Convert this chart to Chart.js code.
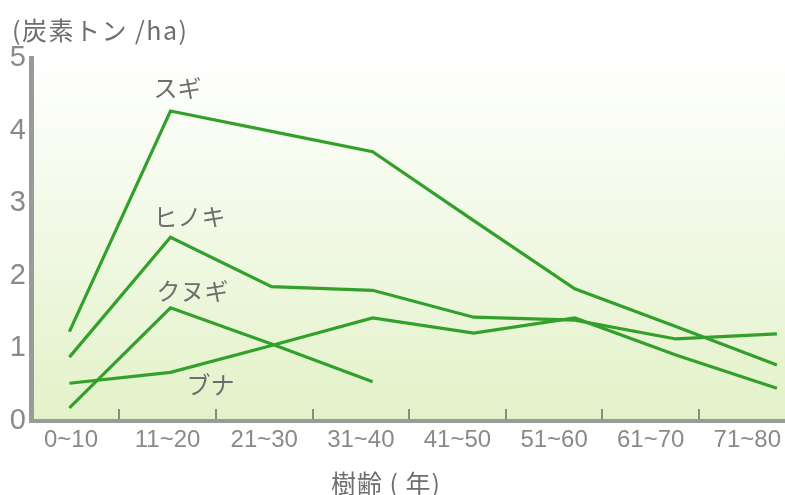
<!DOCTYPE html>
<html lang="ja">
<head>
<meta charset="utf-8">
<title>樹齢別の炭素吸収量</title>
<script src="https://cdn.jsdelivr.net/npm/chart.js@4.4.1/dist/chart.umd.min.js"></script>
<style>
    html, body { margin: 0; padding: 0; background: #fff; }
    #wrap { width: 785px; height: 495px; position: relative; }
</style>
</head>
<body>
<div id="wrap"><canvas id="carbonChart"></canvas></div>
<script>
// 樹齢 (年)
const ageLabels = ['0~10', '11~20', '21~30', '31~40', '41~50', '51~60', '61~70', '71~80'];

// 炭素トン /ha
const sugiValues   = [1.23, 4.27, 3.99, 3.71, 2.76, 1.82, 1.30, 0.77];
const hinokiValues = [0.88, 2.53, 1.85, 1.80, 1.43, 1.39, 1.13, 1.20];
const kunugiValues = [0.18, 1.56, 1.06, 0.54, null, null, null, null];
const bunaValues   = [0.52, 0.67, 1.04, 1.42, 1.21, 1.42, 0.91, 0.45];

const seriesNames = ['スギ', 'ヒノキ', 'クヌギ', 'ブナ'];

const LINE_COLOR = '#33a02c';
const TEXT_GRAY = '#6e6e6e';
const AXIS_GRAY = '#9a9a9a';

// name label offset from each series' 11~20 point
const nameOffsets = [[7, -23], [19, -20], [22, -17], [40, 13]];

const toPoints = (values) => values.map((v, i) => ({ x: i, y: v }));

const plotBackground = {
    id: 'plotBackground',
    beforeDraw(chart) {
        const { ctx, chartArea: a } = chart;
        const g = ctx.createLinearGradient(0, a.top, 0, a.bottom);
        g.addColorStop(0, '#ffffff');
        g.addColorStop(1, '#e2f2c8');
        ctx.save();
        ctx.fillStyle = g;
        ctx.fillRect(a.left, a.top, a.right - a.left, a.bottom - a.top);
        ctx.restore();
    }
};

const chartTexts = {
    id: 'chartTexts',
    afterDatasetsDraw(chart) {
        const { ctx } = chart;
        ctx.save();
        ctx.fillStyle = TEXT_GRAY;
        ctx.textBaseline = 'middle';

        // unit
        ctx.font = '25px "Noto Sans CJK JP", sans-serif';
        ctx.textAlign = 'left';
        ctx.letterSpacing = '1.5px';
        ctx.fillText('(炭素トン /ha)', 12, 30);

        // x axis title
        ctx.letterSpacing = '1px';
        ctx.textAlign = 'center';
        ctx.fillText('樹齢 ( 年)', 386, 483);

        // series names
        ctx.letterSpacing = '0px';
        ctx.font = '24px "Noto Sans CJK JP", sans-serif';
        chart.data.datasets.forEach((ds, i) => {
            const pt = chart.getDatasetMeta(i).data[1];
            if (!pt) return;
            ctx.fillText(ds.label, pt.x + nameOffsets[i][0], pt.y + nameOffsets[i][1]);
        });
        ctx.restore();
    }
};

function makeDataset(label, values) {
    return {
        label: label,
        data: toPoints(values),
        xAxisID: 'xd',
        borderColor: LINE_COLOR,
        borderWidth: 3.2,
        pointRadius: 0,
        tension: 0,
        spanGaps: false,
        fill: false
    };
}

new Chart(document.getElementById('carbonChart'), {
    type: 'line',
    data: {
        datasets: [
            makeDataset(seriesNames[0], sugiValues),
            makeDataset(seriesNames[1], hinokiValues),
            makeDataset(seriesNames[2], kunugiValues),
            makeDataset(seriesNames[3], bunaValues)
        ]
    },
    options: {
        responsive: true,
        maintainAspectRatio: false,
        animation: false,
        layout: { padding: { top: 58, right: 0, left: 0, bottom: 0 } },
        plugins: {
            legend: { display: false },
            tooltip: { enabled: false }
        },
        scales: {
            // labelled age axis
            x: {
                type: 'linear',
                position: 'bottom',
                min: -0.414,
                max: 7.39,
                afterFit: (scale) => {
                    scale.height = 74;
                    scale.paddingLeft = 0;
                    scale.paddingRight = 0;
                },
                border: { display: true, color: AXIS_GRAY, width: 4 },
                grid: {
                    display: true,
                    drawOnChartArea: false,
                    drawTicks: true,
                    tickLength: -12,
                    offset: true,
                    color: '#8a8a8a',
                    lineWidth: 2
                },
                ticks: {
                    stepSize: 1,
                    includeBounds: false,
                    autoSkip: false,
                    maxRotation: 0,
                    padding: 17,
                    color: '#8a8a8a',
                    font: { family: '"Liberation Sans", sans-serif', size: 24 },
                    callback: (value) => ageLabels[value] ?? ''
                }
            },
            // data position axis (hidden)
            xd: {
                type: 'linear',
                position: 'bottom',
                display: false,
                min: -0.38,
                max: 7.08
            },
            y: {
                min: 0,
                max: 5,
                afterFit: (scale) => { scale.width = 31; },
                border: { display: true, color: AXIS_GRAY, width: 5 },
                grid: { display: false, drawTicks: false },
                ticks: {
                    stepSize: 1,
                    padding: 5,
                    color: '#8a8a8a',
                    font: { family: '"Liberation Sans", sans-serif', size: 29 }
                }
            }
        }
    },
    plugins: [plotBackground, chartTexts]
});
</script>
</body>
</html>
